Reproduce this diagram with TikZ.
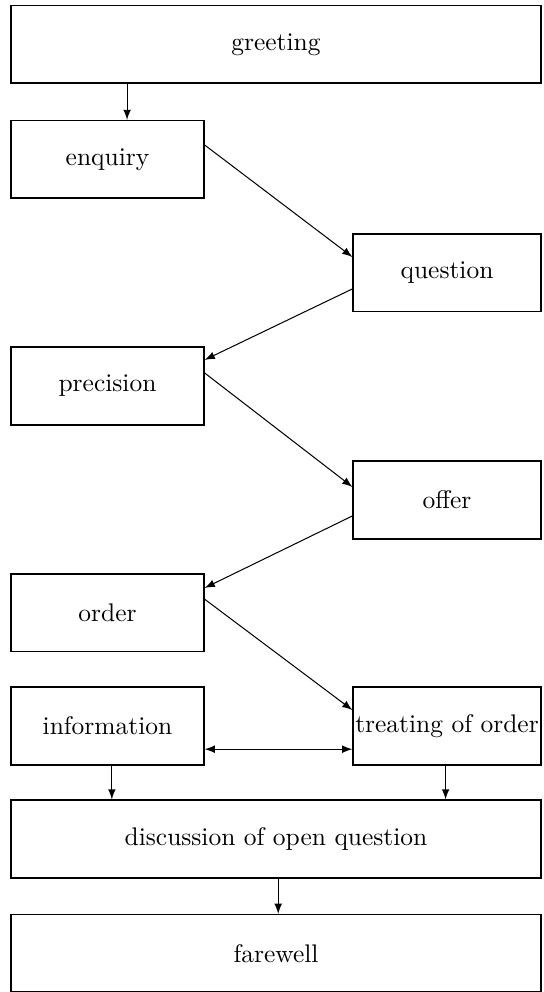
\documentclass[tikz,border=0pt]{standalone}
\usepackage{tikz}
\usetikzlibrary{positioning, arrows}

\begin{document}
\begin{tikzpicture}[
    stage/.style={draw, line width=0.6pt, inner sep=0pt, minimum height=1.07cm},
    small/.style={stage, minimum width=2.66cm},
    smallr/.style={stage, minimum width=2.59cm},
    wide/.style={stage, minimum width=7.31cm},
    arr/.style={-latex, line width=0.4pt}
  ]
    \useasboundingbox (0,0) rectangle (7.507,-13.69);
    \node[wide] (greeting) at (3.809,-0.614) {greeting};
    \node[small] (enquiry) at (1.4835,-2.201) {enquiry};
    \node[smallr] (question) at (6.169,-3.767) {question};
    \node[small] (precision) at (1.4835,-5.327) {precision};
    \node[smallr] (offer) at (6.169,-6.9) {offer};
    \node[small] (order) at (1.4835,-8.459) {order};
    \node[small] (information) at (1.4835,-10.019) {information};
    \node[smallr] (treating) at (6.169,-10.019) {treating of order};
    \node[wide] (discussion) at (3.809,-11.578) {discussion of open question};
    \node[wide] (farewell) at (3.809,-13.158) {farewell};

    \coordinate (e1) at ([xshift=0.27cm]enquiry.north);
    \coordinate (i1) at ([xshift=0.06cm]information.south);
    \coordinate (t1) at ([xshift=-0.02cm]treating.south);
    \coordinate (f1) at ([xshift=0.03cm]farewell.north);

    \draw[arr] (greeting.south -| e1) -- (e1);
    \draw[arr] ([yshift=0.2cm]enquiry.east) -- ([yshift=0.22cm]question.west);
    \draw[arr] ([yshift=-0.22cm]question.west) -- ([yshift=0.36cm]precision.east);
    \draw[arr] ([yshift=0.18cm]precision.east) -- ([yshift=0.18cm]offer.west);
    \draw[arr] ([yshift=-0.22cm]offer.west) -- ([yshift=0.345cm]order.east);
    \draw[arr] ([yshift=0.19cm]order.east) -- ([yshift=0.22cm]treating.west);
    \draw[latex-latex, line width=0.4pt] ([yshift=-0.32cm]information.east) -- ([yshift=-0.32cm]treating.west);
    \draw[arr] (i1) -- (discussion.north -| i1);
    \draw[arr] (t1) -- (discussion.north -| t1);
    \draw[arr] (discussion.south -| f1) -- (f1);
  \end{tikzpicture}
\end{document}
